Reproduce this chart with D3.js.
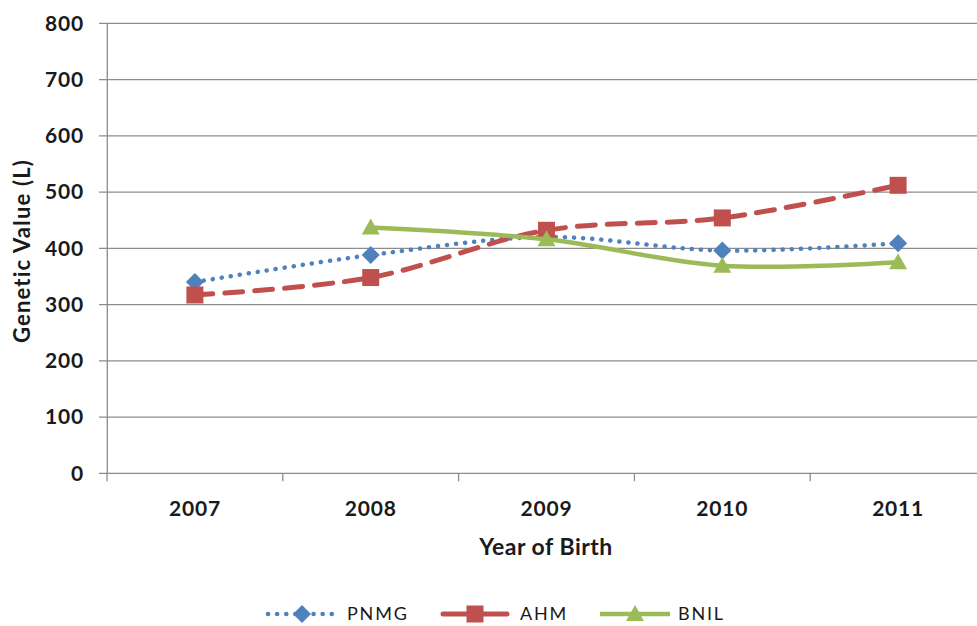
<!DOCTYPE html>
<html><head><meta charset="utf-8">
<script src="https://cdn.jsdelivr.net/npm/d3@7/dist/d3.min.js"></script>
<style>body{margin:0;background:#fff;}svg{display:block;}</style>
</head><body>
<script>
const years = ["2007","2008","2009","2010","2011"];
const pnmg = [340, 388, 420, 396, 409];
const ahm  = [317, 348, 432, 454, 512];
const bnil = [null, 437, 416, 369, 375];
const yTicks = [0,100,200,300,400,500,600,700,800];
const seriesNames = ["PNMG","AHM","BNIL"];

const W=977,H=626;
const svg=d3.select("body").append("svg").attr("width",W).attr("height",H);
const x=d3.scaleBand().domain(years).range([107,986]);
const y=d3.scaleLinear().domain([0,800]).range([473.3,23.3]);
const font="Lato, 'Open Sans', sans-serif";

// gridlines
svg.append("g").selectAll("line").data(yTicks).join("line")
  .attr("x1",99).attr("x2",W).attr("y1",d=>y(d)).attr("y2",d=>y(d))
  .attr("stroke","#8c8c8c").attr("stroke-width",1.3);
// y axis line
svg.append("line").attr("x1",107.3).attr("x2",107.3).attr("y1",y(800)).attr("y2",y(0))
  .attr("stroke","#8c8c8c").attr("stroke-width",1.3);
// x ticks at band boundaries
const bounds = years.map(d=>x(d));
svg.append("g").selectAll("line").data(bounds).join("line")
  .attr("x1",d=>d).attr("x2",d=>d).attr("y1",y(0)).attr("y2",y(0)+8)
  .attr("stroke","#8c8c8c").attr("stroke-width",1.3);
// y tick labels
svg.append("g").selectAll("text").data(yTicks).join("text")
  .attr("x",84).attr("y",d=>y(d)).attr("dy","0.35em").attr("text-anchor","end")
  .attr("font-family",font).attr("font-weight","bold").attr("font-size",21).attr("letter-spacing",0.8).attr("fill","#1a1a1a")
  .text(d=>d);
// x tick labels
svg.append("g").selectAll("text").data(years).join("text")
  .attr("x",d=>x(d)+x.bandwidth()/2).attr("y",516).attr("text-anchor","middle")
  .attr("font-family",font).attr("font-weight","bold").attr("font-size",21).attr("letter-spacing",0.8).attr("fill","#1a1a1a")
  .text(d=>d);
// axis titles
svg.append("text").attr("x",546).attr("y",555).attr("text-anchor","middle")
  .attr("font-family",font).attr("font-weight","bold").attr("font-size",23).attr("letter-spacing",0.5).attr("fill","#1a1a1a")
  .text("Year of Birth");
svg.append("text").attr("transform","translate(30,251) rotate(-90)").attr("text-anchor","middle")
  .attr("font-family",font).attr("font-weight","bold").attr("font-size",22).attr("letter-spacing",1.2).attr("fill","#1a1a1a")
  .text("Genetic Value (L)");

const colors={PNMG:"#4F81BD",AHM:"#C0504D",BNIL:"#9BBB59"};
const dashes={PNMG:"0.1 9",AHM:"18 12",BNIL:null};
const caps={PNMG:"round",AHM:"round",BNIL:"butt"};
const widths={PNMG:4.5,AHM:5,BNIL:4.5};
const data={PNMG:pnmg,AHM:ahm,BNIL:bnil};
const cx=d=>x(d)+x.bandwidth()/2;

const line=d3.line().defined(d=>d.v!=null).x(d=>cx(d.year)).y(d=>y(d.v)).curve(d3.curveCatmullRom.alpha(0.5));

function marker(g,name,px,py){
  const c=colors[name];
  if(name==="PNMG"){
    g.append("path").attr("d",`M${px},${py-9}L${px+9},${py}L${px},${py+9}L${px-9},${py}Z`).attr("fill",c);
  } else if(name==="AHM"){
    g.append("rect").attr("x",px-8.5).attr("y",py-8.5).attr("width",17).attr("height",17).attr("fill",c);
  } else {
    g.append("path").attr("d",`M${px},${py-9}L${px+9},${py+7}L${px-9},${py+7}Z`).attr("fill",c);
  }
}

seriesNames.forEach(name=>{
  const pts=years.map((yr,i)=>({year:yr,v:data[name][i]}));
  const g=svg.append("g");
  g.append("path").datum(pts).attr("d",line).attr("fill","none")
   .attr("stroke",colors[name]).attr("stroke-width",widths[name])
   .attr("stroke-dasharray",dashes[name]).attr("stroke-linecap",caps[name]);
  pts.filter(d=>d.v!=null).forEach(d=>marker(g,name,cx(d.year),y(d.v)));
});

// legend
const legend=[{name:"PNMG",x1:268,x2:332,m:302,t:347},{name:"AHM",x1:443,x2:507,m:475,t:520},{name:"BNIL",x1:600,x2:670,m:635,t:678}];
const ly=614;
legend.forEach(l=>{
  const g=svg.append("g");
  g.append("line").attr("x1",l.x1).attr("x2",l.x2).attr("y1",ly).attr("y2",ly)
   .attr("stroke",colors[l.name]).attr("stroke-width",widths[l.name])
   .attr("stroke-dasharray",l.name==="PNMG"?"0.1 9":null).attr("stroke-linecap",caps[l.name]);
  marker(g,l.name,l.m,ly);
  g.append("text").attr("x",l.t).attr("y",ly).attr("dy","0.35em")
   .attr("font-family",font).attr("font-size",18).attr("letter-spacing",1.8).attr("fill","#1a1a1a")
   .text(l.name);
});
</script>
</body></html>
